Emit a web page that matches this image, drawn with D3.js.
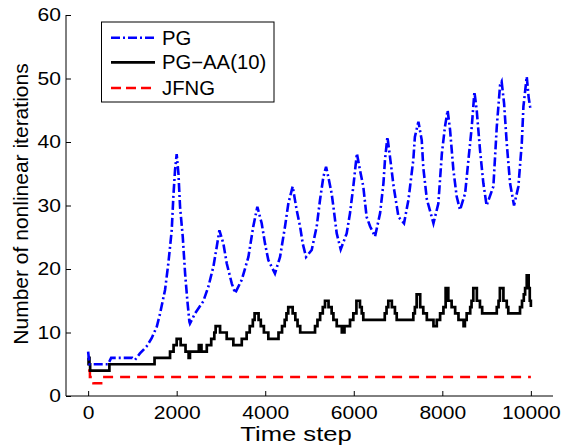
<!DOCTYPE html>
<html><head><meta charset="utf-8">
<script src="https://cdn.jsdelivr.net/npm/d3@7"></script>
<style>
html,body{margin:0;padding:0;background:#fff;}
text{font-family:"Liberation Sans",Arial,Helvetica,sans-serif;fill:#000;}
</style></head>
<body><svg id="chart" width="561" height="448"></svg>
<script>
// ---- data ----
const xTicks = [0, 2000, 4000, 6000, 8000, 10000];
const yTicks = [0, 10, 20, 30, 40, 50, 60];
const seriesNames = ["PG", "PG\u2212AA(10)", "JFNG"];

const pgT = [0,30,100,450,520,1000,1060,1170,1320,1435,1550,1625,1737,1812,1888,1925,1963,2000,2040,2076,2137,2190,2240,2287,2300,2415,2600,2715,2830,2905,2965,3055,3130,3245,3320,3470,3620,3730,3822,3920,3995,4070,4220,4335,4447,4522,4620,4710,4787,4847,4922,5050,5163,5238,5313,5374,5425,5500,5540,5615,5705,5840,5915,5990,6070,6140,6215,6290,6370,6480,6595,6670,6705,6760,6830,6900,7010,7135,7235,7345,7380,7460,7535,7570,7650,7800,7910,7990,8060,8120,8175,8250,8325,8400,8515,8590,8665,8725,8777,8852,8927,9000,9153,9230,9305,9340,9395,9455,9530,9620,9718,9795,9832,9907,9950,9982,10000];
const pgV = [7,5,5,5,6,6,5.7,6.7,7.8,9.1,10.9,13,16.7,20.9,26.1,31.4,35.6,38.1,35,29.8,25.1,19.3,15.1,11.7,11.4,13,14.9,17.2,20.4,23.5,26.1,24,20.9,17.7,16.2,18.3,21.9,26.7,29.8,27.2,24,21.4,19.3,21.9,26.7,30.3,33,29.3,26.7,24,21.9,23,26.7,30.9,34.5,36.1,34.5,31.9,29.8,25.6,23.1,25.6,28.8,33,38.2,35.6,33,28.2,26.7,25.1,28.8,33.5,37.2,40.8,37,33,28.2,27.2,30.9,37.2,40.8,43.2,40.3,36,31,27.2,30.3,38.2,42.4,45,41.9,35.6,31.4,29.3,31.9,37.2,42.4,47.9,45,38.7,33.5,30,33,42.4,49,49.5,46.1,39.8,33.5,30,33,39.8,45.6,50.3,47,45.6,45];

const aaT = [0,10,20,30,45,480,1500,1850,1930,2000,2090,2200,2270,2300,2500,2560,2680,2780,2850,2880,2980,3130,3280,3470,3580,3650,3720,3760,3850,3900,3970,4070,4300,4380,4440,4480,4520,4620,4680,4730,4790,5125,5180,5240,5300,5350,5430,5500,5540,5615,5730,5790,5840,5915,5990,6060,6140,6180,6215,6670,6700,6740,6780,6860,6930,6970,7270,7345,7380,7420,7500,7570,7650,7800,7840,7875,7950,8025,8075,8135,8210,8290,8365,8480,8510,8550,8630,8660,8700,8780,8850,8900,9190,9230,9270,9300,9380,9455,9490,9720,9755,9800,9840,9870,9907,9950,9975,10000];
const aaV = [6,5,6,5,4,5,6,7,8,9,8,7,6,7,8,7,8,9,10,11,10,9,8,9,10,11,12,13,12,11,10,9,10,11,12,13,14,13,12,11,10,11,12,13,14,15,14,13,12,11,10,11,11,12,13,15,14,13,12,12,13,14,15,14,13,12,12,13,14,16,14,13,12,11,11,12,13,14,17,15,14,13,12,11,12,13,14,15,17,15,14,13,13,14,15,17,15,14,13,13,14,15,16,17,19,17,15,14];

const jfT = [0,40,120,330,10000];
const jfV = [4,3,2,3,3];

// ---- layout ----
const svg = d3.select("#chart");
const x = d3.scaleLinear().domain([-500, 10500]).range([66, 553]);
const y = d3.scaleLinear().domain([0, 60]).range([396, 15]);

function pts(T, V){ return T.map((t,i)=>[t, V[i]]); }
const lineLin = d3.line().x(d=>x(d[0])).y(d=>y(d[1]));
const lineStep = d3.line().x(d=>x(d[0])).y(d=>y(d[1])).curve(d3.curveStepAfter);

const plot = svg.append("g");
plot.append("path").datum(pts(jfT,jfV)).attr("d", lineStep)
  .attr("fill","none").attr("stroke","#ff0000").attr("stroke-width",2.5).attr("stroke-dasharray","10,7");
plot.append("path").datum(pts(aaT,aaV)).attr("d", lineStep)
  .attr("fill","none").attr("stroke","#000").attr("stroke-width",2.7).attr("stroke-linejoin","miter");
plot.append("path").datum(pts(pgT,pgV)).attr("d", lineLin)
  .attr("fill","none").attr("stroke","#0000ff").attr("stroke-width",2.6).attr("stroke-dasharray","9,3,2,3");

// axes
const SX = 1.17;
const xAxis = d3.axisBottom(x).tickValues(xTicks).tickSizeInner(-5).tickSizeOuter(0).tickPadding(10).tickFormat(d3.format("d"));
const yAxis = d3.axisLeft(y).tickValues(yTicks).tickSizeInner(-5).tickSizeOuter(0).tickPadding(5).tickFormat(d3.format("d"));
const gx = svg.append("g").attr("transform","translate(0,396)").call(xAxis);
const gy = svg.append("g").attr("transform","translate(66,0)").call(yAxis);
[gx,gy].forEach(g=>{
  g.selectAll("path.domain").attr("stroke","#000").attr("stroke-width",1);
  g.selectAll(".tick line").attr("stroke","#000").attr("stroke-width",1);
  g.selectAll(".tick text").attr("font-size",18).attr("font-family","Liberation Sans, Arial, sans-serif").attr("fill","#000");
});
// horizontal widening of tick labels, anchored at their own anchor point
gx.selectAll(".tick text").attr("transform",`scale(${SX},1)`).attr("x",0);
gy.selectAll(".tick text").each(function(){
  const t = d3.select(this); const xx = +t.attr("x");
  t.attr("x", xx/SX).attr("transform",`scale(${SX},1)`);
});
gx.select("path.domain").attr("d","M66,0H553");
gy.select("path.domain").attr("d","M0,396V15");

svg.append("text").attr("transform","translate(296,441) scale(1.22,1)").attr("text-anchor","middle").attr("font-size",21).text("Time step");
svg.append("text").attr("transform","translate(28,204) rotate(-90)").attr("text-anchor","middle").attr("font-size",21).text("Number of nonlinear iterations");

// legend
const lg = svg.append("g");
lg.append("rect").attr("x",101.5).attr("y",22).attr("width",172.5).attr("height",80).attr("fill","#fff").attr("stroke","#000").attr("stroke-width",1);
const styles = [
  {c:"#0000ff", d:"9,3,2,3", w:2.6},
  {c:"#000", d:null, w:2.7},
  {c:"#ff0000", d:"10,5", w:2.5}
];
const rowY = [37.7, 62.3, 88];
seriesNames.forEach((n,i)=>{
  const l = lg.append("line").attr("x1",111).attr("x2",155).attr("y1",rowY[i]).attr("y2",rowY[i])
    .attr("stroke",styles[i].c).attr("stroke-width",styles[i].w);
  if(styles[i].d) l.attr("stroke-dasharray",styles[i].d);
  lg.append("text").attr("transform",`translate(162,${rowY[i]+7}) scale(1.04,1)`).attr("font-size",19.5).text(n);
});
</script></body></html>
